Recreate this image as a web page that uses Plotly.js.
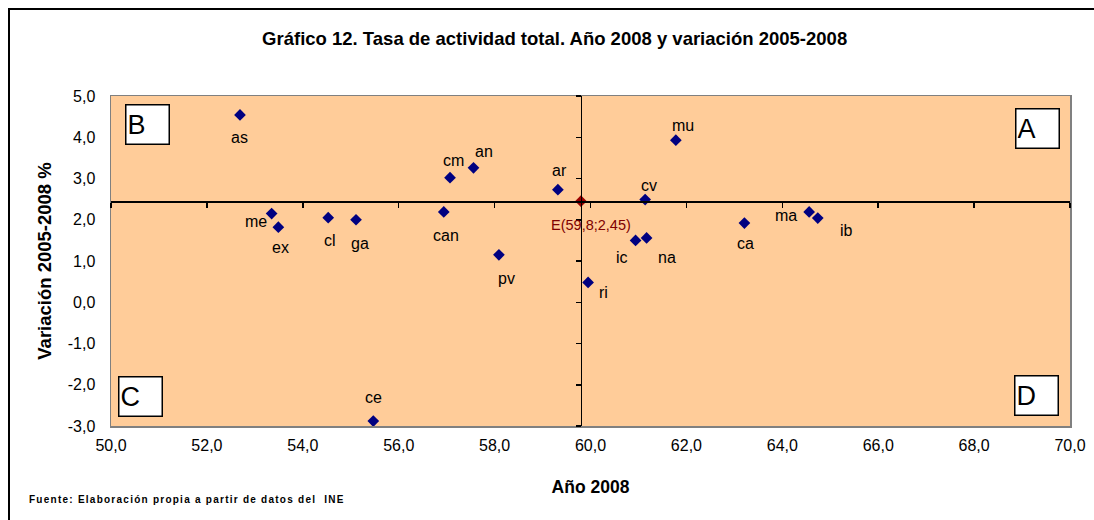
<!DOCTYPE html>
<html>
<head>
<meta charset="utf-8">
<script src="https://cdn.plot.ly/plotly-3.0.1.min.js"></script>
<style>
  html, body { margin: 0; padding: 0; background: #fff; overflow: hidden; }
  #wrap { position: relative; width: 1094px; height: 520px; overflow: hidden; }
  #frame { position: absolute; left: 8px; top: 8px; width: 1100px; height: 530px;
           border-left: 2px solid #000; border-top: 2px solid #000; pointer-events: none; z-index: 5; }
  #chart { position: absolute; left: 0; top: 0; width: 1094px; height: 520px; }
</style>
</head>
<body>
<div id="wrap">
  <div id="chart"></div>
  <div id="frame"></div>
</div>
<script>
// ---- Data ----
const regions   = ['as','me','ex','cl','ga','can','cm','an','ar','pv','ri','cv','mu','ic','na','ca','ma','ib','ce'];
const tasa2008  = [52.69, 53.35, 53.49, 54.53, 55.11, 56.94, 57.07, 57.56, 59.32, 58.09, 59.95, 61.14, 61.78, 60.94, 61.17, 63.21, 64.56, 64.74, 55.47];
const variacion = [4.54, 2.15, 1.82, 2.05, 2.00, 2.19, 3.02, 3.26, 2.73, 1.15, 0.48, 2.49, 3.93, 1.50, 1.56, 1.92, 2.19, 2.04, -2.88];
const espanaX = [59.8];
const espanaY = [2.45];
const espanaLabel = ['E(59,8;2,45)'];
const quadrants = ['A','B','C','D'];
const xTickVals = [50, 52, 54, 56, 58, 60, 62, 64, 66, 68, 70];
const yTickVals = [-3, -2, -1, 0, 1, 2, 3, 4, 5];
const xRange = [50, 70];
const yRange = [-3, 5];

// ---- Label placement (style: pixel offsets of each label from its point) ----
const labelDx = [0, -16, 2, 2, 4, 2, 3, 10, 2, 8, 15, 4, 7, -14, 20, 1, -23, 29, 0];
const labelDy = [23, 8, 20, 23, 24, 24, -17, -16, -19, 24, 10, -14, -15, 17, 20, 20, 4, 12, -24];
const espanaDx = [10];
const espanaDy = [24];

const fmt = v => v.toFixed(1).replace('.', ',');

const traces = [
  {
    type: 'scatter', mode: 'markers',
    x: tasa2008, y: variacion, text: regions,
    marker: {symbol: 'diamond', size: 9, color: '#000080'},
    cliponaxis: false, hoverinfo: 'x+y+text', showlegend: false,
    xaxis: 'x', yaxis: 'y'
  },
  {
    type: 'scatter', mode: 'markers',
    x: espanaX, y: espanaY, text: espanaLabel,
    marker: {symbol: 'diamond', size: 9, color: '#990000'},
    cliponaxis: false, showlegend: false,
    xaxis: 'x2', yaxis: 'y2'
  }
];

const crossYFrac = (espanaY[0] - yRange[0]) / (yRange[1] - yRange[0]);
const crossXFrac = (espanaX[0] - xRange[0]) / (xRange[1] - xRange[0]);

const FAM = 'Arial, "Liberation Sans", sans-serif';
const tickFont = {family: FAM, size: 16, color: '#000'};
const boldFont = {family: FAM, size: 17.5, color: '#000'};

const quadBox = {
  xref: 'paper', yref: 'paper', showarrow: false,
  font: {family: FAM, size: 27, color: '#000'},
  bgcolor: '#ffffff', bordercolor: '#000000', borderwidth: 1.5, borderpad: 1,
  width: 40, height: 36, align: 'left', valign: 'middle'
};

const annotations = [
  Object.assign({}, quadBox, {text: quadrants[0], x: 1, xanchor: 'right', xshift: -10, y: 1, yanchor: 'top', yshift: -12}),
  Object.assign({}, quadBox, {text: quadrants[1], x: 0, xanchor: 'left', xshift: 14, y: 1, yanchor: 'top', yshift: -8}),
  Object.assign({}, quadBox, {text: quadrants[2], x: 0, xanchor: 'left', xshift: 7, y: 0, yanchor: 'bottom', yshift: 9}),
  Object.assign({}, quadBox, {text: quadrants[3], x: 1, xanchor: 'right', xshift: -11, y: 0, yanchor: 'bottom', yshift: 10}),
  {
    xref: 'paper', yref: 'paper', showarrow: false, align: 'left',
    text: '<b>Fuente: Elaboración propia a partir de datos del  INE</b>',
    x: 0, xanchor: 'left', xshift: -84, y: 0, yanchor: 'middle', yshift: -73,
    font: {family: FAM, size: 10, color: '#000'}
  }
];

regions.forEach(function (r, i) {
  annotations.push({
    xref: 'x', yref: 'y', x: tasa2008[i], y: variacion[i], text: r, showarrow: false,
    xanchor: 'center', yanchor: 'middle', xshift: labelDx[i], yshift: -labelDy[i],
    font: {family: FAM, size: 16, color: '#000'}
  });
});
annotations.push({
  xref: 'x', yref: 'y', x: espanaX[0], y: espanaY[0], text: espanaLabel[0], showarrow: false,
  xanchor: 'center', yanchor: 'middle', xshift: espanaDx[0], yshift: -espanaDy[0],
  font: {family: FAM, size: 14.5, color: '#800000'}
});

const layout = {
  width: 1094, height: 520,
  margin: {l: 111, r: 24, t: 96, b: 94},
  paper_bgcolor: '#ffffff',
  plot_bgcolor: '#FFCC99',
  separators: ',.',
  title: {
    text: '<b>Gráfico 12. Tasa de actividad total. Año 2008 y variación 2005-2008</b>',
    font: {family: FAM, size: 18.5, color: '#000'},
    xref: 'container', yref: 'container', x: 0.507, y: 0.925, xanchor: 'center', yanchor: 'middle'
  },
  xaxis: {
    range: xRange, tickvals: xTickVals, ticktext: xTickVals.map(fmt),
    showgrid: false, zeroline: false, ticks: '',
    showline: true, linecolor: '#808080', linewidth: 1.5, mirror: true,
    tickfont: tickFont, ticklabelstandoff: 4,
    title: {text: '<b>Año 2008</b>', font: boldFont, standoff: 28}
  },
  yaxis: {
    range: yRange, tickvals: yTickVals, ticktext: yTickVals.map(fmt),
    showgrid: false, zeroline: false, ticks: '',
    showline: true, linecolor: '#808080', linewidth: 1.5, mirror: true,
    tickfont: tickFont, ticklabelstandoff: 11,
    title: {text: '<b>Variación 2005-2008 %</b>', font: {family: FAM, size: 18.5, color: '#000'}, standoff: 11}
  },
  xaxis2: {
    overlaying: 'x', anchor: 'free', position: crossYFrac, side: 'bottom',
    range: xRange, tickvals: xTickVals,
    showgrid: false, zeroline: false, showticklabels: false,
    showline: true, linecolor: '#000', linewidth: 1.5,
    ticks: 'outside', ticklen: 5, tickwidth: 1.5, tickcolor: '#000'
  },
  yaxis2: {
    overlaying: 'y', anchor: 'free', position: crossXFrac, side: 'left',
    range: yRange, tickvals: yTickVals,
    showgrid: false, zeroline: false, showticklabels: false,
    showline: true, linecolor: '#000', linewidth: 1.5,
    ticks: 'outside', ticklen: 5, tickwidth: 1.5, tickcolor: '#000'
  },
  annotations: annotations
};

Plotly.newPlot('chart', traces, layout, {displayModeBar: false, staticPlot: true}).then(function () {
  document.querySelectorAll('#chart .annotation-text').forEach(function (t) {
    if (t.textContent.indexOf('Fuente') === 0) { t.style.letterSpacing = '1.25px'; }
  });
});
</script>
</body>
</html>
